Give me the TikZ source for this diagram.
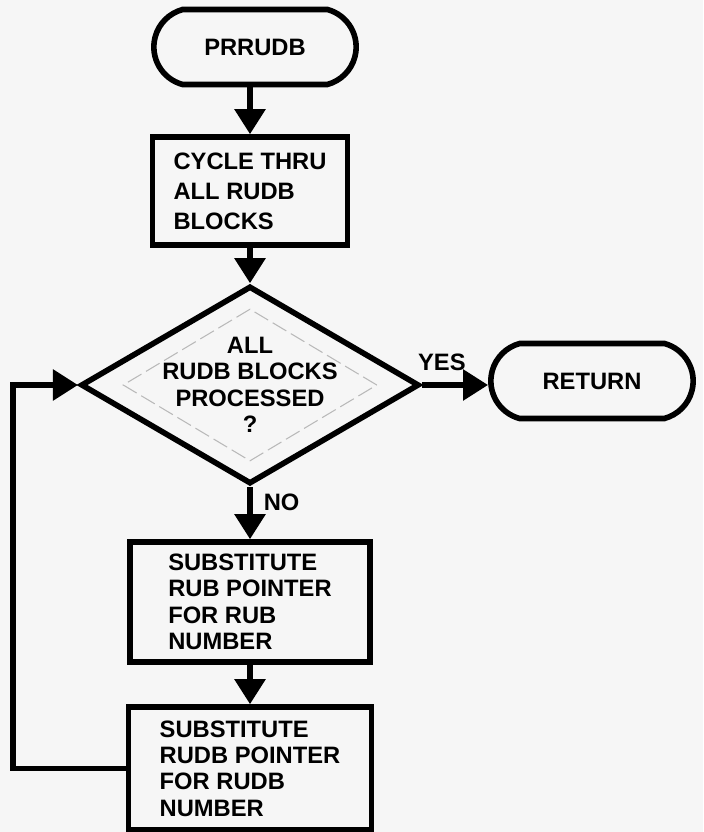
\documentclass[tikz,border=0pt]{standalone}
\usepackage{fontspec}
\setmainfont{Liberation Sans}
\usetikzlibrary{shapes.geometric,shapes.misc,arrows.meta}
\begin{document}
\begin{tikzpicture}
  \tikzset{
  txt/.style={font=\fontsize{13.5}{15}\selectfont\bfseries},
  term/.style={txt,draw,line width=3.2pt,rounded rectangle,rounded rectangle arc length=150,minimum width=4.28cm,minimum height=1.5cm},
  box/.style={txt,draw,line width=3.2pt,align=left,inner sep=0pt},
  decision/.style={txt,draw,line width=3.2pt,diamond,aspect=1.71,inner sep=0pt,align=center,minimum width=6.64cm,minimum height=3.88cm},
  guide/.style={draw=gray!55,line width=0.6pt,dash pattern=on 9pt off 3pt,diamond,inner sep=0pt,minimum width=5.08cm,minimum height=3.04cm},
  arr/.style={line width=3.2pt,-{Triangle[length=0.5cm,width=0.6cm]}},
  lbl/.style={txt,inner sep=0pt},
  }
  % the paper
  \fill[gray!7] (0,0) rectangle (14.06,-16.64);
  \useasboundingbox (0,0) rectangle (14.06,-16.64);

  % the blocks
  \node[term] (start) at (5.1,-0.94) {PRRUDB};
  \node[box,minimum width=3.9cm,minimum height=2.16cm,font=\fontsize{13.5}{17}\selectfont\bfseries] (cycle) at (5,-3.82) {CYCLE THRU\\ALL RUDB\\BLOCKS};
  \node[guide] (guide) at (5,-7.7) {};
  \node[decision] (done) at (5,-7.7) {ALL\\RUDB BLOCKS\\PROCESSED\\?};
  \node[term] (ret) at (11.84,-7.62) {RETURN};
  \node[box,minimum width=4.8cm,minimum height=2.4cm] (subrub) at (5,-12.04) {SUBSTITUTE\\RUB POINTER\\FOR RUB\\NUMBER};
  \node[box,minimum width=4.86cm,minimum height=2.46cm] (subrudb) at (5,-15.37) {SUBSTITUTE\\RUDB POINTER\\FOR RUDB\\NUMBER};
  \coordinate (back) at (0.26,-7.7);

  % the flow between the blocks
  \draw[arr] (start.south -| cycle) -- (cycle);
  \draw[arr] (cycle) -- (done);
  \draw[arr] (done.east) -- node[lbl,pos=0.3,above=0.22cm] {YES} (done.east -| ret.west);
  \draw[arr] (done) -- node[lbl,pos=0.29,anchor=west,xshift=0.22cm] {NO} (subrub);
  \draw[arr] (subrub) -- (subrudb);
  \draw[arr] (subrudb.west) -| (back) -- (done.west);
\end{tikzpicture}
\end{document}
